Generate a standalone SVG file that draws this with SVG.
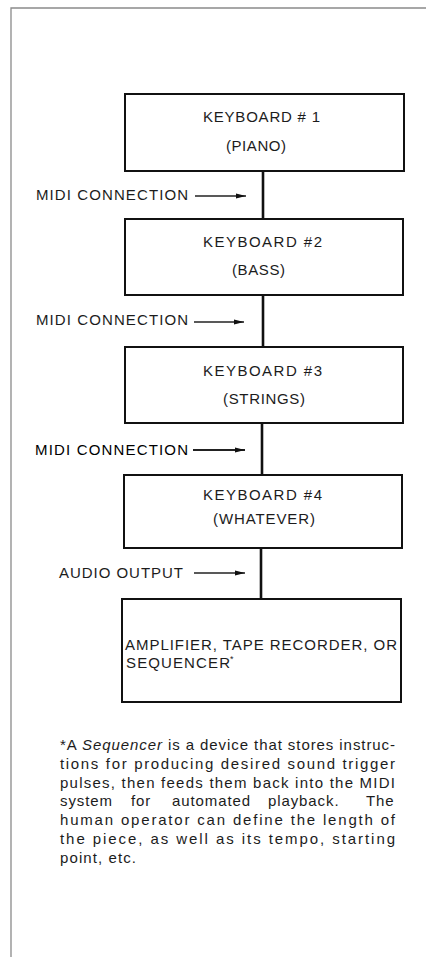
<svg xmlns="http://www.w3.org/2000/svg" width="426" height="957" viewBox="0 0 426 957">
<defs>
<marker id="ah" markerWidth="11" markerHeight="6" refX="10" refY="3" orient="auto" markerUnits="userSpaceOnUse">
<path d="M0,0.6 L10,3 L0,5.4 z" fill="#111"/>
</marker>
<style>
.frame{fill:none;stroke:#8a8a8a;stroke-width:1.3}
.box{fill:#fff;stroke:#111;stroke-width:2}
.wire{stroke:#111;stroke-width:2.6;fill:none}
.arr{stroke:#222;stroke-width:1.3;fill:none;marker-end:url(#ah)}
.t{font-family:"Liberation Sans",Arial,Helvetica,sans-serif;font-size:15px;fill:#1c1c1c}
.n{font-family:"Liberation Sans",Arial,Helvetica,sans-serif;font-size:15px;fill:#1c1c1c}
</style>
</defs>
<rect width="426" height="957" fill="#fff"/>
<path class="frame" d="M11,957 L11,8 L426,8"/>

<g id="connectors">
<line class="wire" x1="263" y1="171" x2="263" y2="219"/>
<line class="wire" x1="263" y1="295" x2="263" y2="347"/>
<line class="wire" x1="262" y1="423" x2="262" y2="475"/>
<line class="wire" x1="261" y1="548" x2="261" y2="599"/>
<line class="arr" x1="195" y1="196" x2="246" y2="196"/>
<line class="arr" x1="194" y1="322" x2="244" y2="322"/>
<line class="arr" x1="193" y1="450" x2="245" y2="450" style="stroke-width:1.8"/>
<line class="arr" x1="194" y1="573" x2="245" y2="573"/>
<text class="t" x="36" y="200" textLength="152" lengthAdjust="spacing">MIDI CONNECTION</text>
<text class="t" x="36" y="325" textLength="152" lengthAdjust="spacing">MIDI CONNECTION</text>
<text class="t" x="35" y="455" textLength="153" lengthAdjust="spacing" style="fill:#000">MIDI CONNECTION</text>
<text class="t" x="59" y="578" textLength="124" lengthAdjust="spacing">AUDIO OUTPUT</text>
</g>

<g id="keyboard1">
<rect class="box" x="125" y="94" width="279" height="77"/>
<text class="t" x="203" y="122" textLength="117" lengthAdjust="spacing">KEYBOARD # 1</text>
<text class="t" x="226" y="151" textLength="60" lengthAdjust="spacing">(PIANO)</text>
</g>

<g id="keyboard2">
<rect class="box" x="125" y="219" width="278" height="76"/>
<text class="t" x="203" y="247" textLength="119" lengthAdjust="spacing">KEYBOARD #2</text>
<text class="t" x="232" y="275" textLength="53" lengthAdjust="spacing">(BASS)</text>
</g>

<g id="keyboard3">
<rect class="box" x="125" y="347" width="278" height="76"/>
<text class="t" x="203" y="376" textLength="119" lengthAdjust="spacing">KEYBOARD #3</text>
<text class="t" x="223" y="404" textLength="82" lengthAdjust="spacing">(STRINGS)</text>
</g>

<g id="keyboard4">
<rect class="box" x="124" y="475" width="278" height="73"/>
<text class="t" x="203" y="500" textLength="119" lengthAdjust="spacing">KEYBOARD #4</text>
<text class="t" x="213" y="524" textLength="102" lengthAdjust="spacing">(WHATEVER)</text>
</g>

<g id="output">
<rect class="box" x="122" y="599" width="279" height="103"/>
<text class="t" x="125" y="650" textLength="272" lengthAdjust="spacing">AMPLIFIER, TAPE RECORDER, OR</text>
<text class="t" x="126" y="668" textLength="104" lengthAdjust="spacing">SEQUENCER</text>
<text class="t" x="230" y="662" style="font-size:9px">*</text>
</g>

<g id="footnote">
<text class="n" x="60" y="750" textLength="335" lengthAdjust="spacing">*A <tspan font-style="italic">Sequencer</tspan> is a device that stores instruc-</text>
<text class="n" x="60" y="769" textLength="335" lengthAdjust="spacing">tions for producing desired sound trigger</text>
<text class="n" x="60" y="788" textLength="335" lengthAdjust="spacing">pulses, then feeds them back into the MIDI</text>
<text class="n" y="806" style="letter-spacing:0.9px"><tspan x="60">system</tspan><tspan x="131">for</tspan><tspan x="172">automated</tspan><tspan x="268">playback.</tspan><tspan x="366">The</tspan></text>
<text class="n" x="60" y="825" textLength="335" lengthAdjust="spacing">human operator can define the length of</text>
<text class="n" x="60" y="844" textLength="335" lengthAdjust="spacing">the piece, as well as its tempo, starting</text>
<text class="n" x="60" y="863" style="letter-spacing:1.1px">point, etc.</text>
</g>
</svg>
